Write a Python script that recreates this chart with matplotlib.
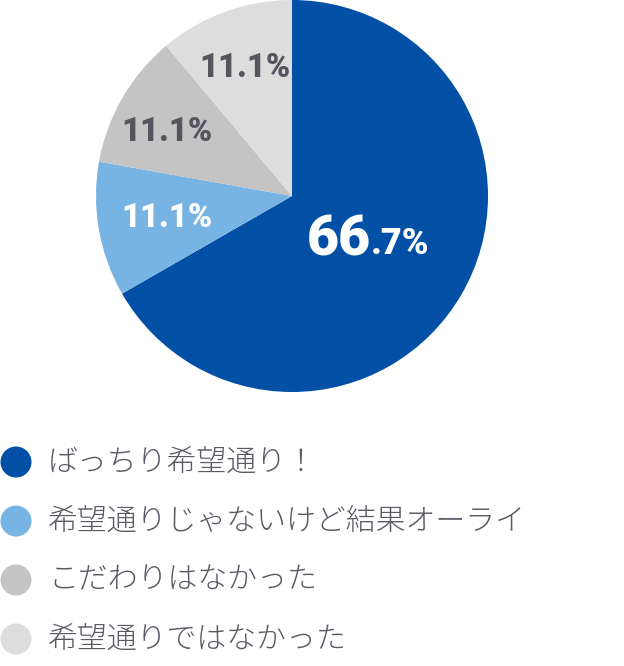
import matplotlib.pyplot as plt
from matplotlib.patches import Circle

plt.rcParams['font.family'] = ['Noto Sans CJK JP', 'DejaVu Sans']

# data
categories = ["ばっちり希望通り！", "希望通りじゃないけど結果オーライ", "こだわりはなかった", "希望通りではなかった"]
values = [66.7, 11.1, 11.1, 11.1]
colors = ["#024FA6", "#77B4E4", "#C4C4C4", "#DDDDDD"]
label_colors = ["white", "white", "#55555F", "#55555F"]

W, H = 624, 666
fig = plt.figure(figsize=(W / 100, H / 100), dpi=100)

# pie area in pixel box (96..488, 0..392)
ax = fig.add_axes([96 / W, (H - 392) / H, 392 / W, 392 / H])
wedges, _ = ax.pie(values, colors=colors, startangle=90, counterclock=False,
                   radius=1, wedgeprops=dict(linewidth=0))
ax.set_xlim(-1, 1)
ax.set_ylim(-1, 1)
ax.set_aspect("equal")
ax.axis("off")

# slice labels (pixel positions of label centres)
def px(x, y):
    return (x - 292) / 196, (196 - y) / 196

big, small = f"{values[0]:.1f}".split(".")
x0, y0 = px(307, 240)
t = ax.text(x0, y0, big, color="white", fontsize=40, fontweight="black",
            family="Roboto", ha="left", va="center")
fig.canvas.draw()
bb = t.get_window_extent()
inv = ax.transData.inverted()
x1 = inv.transform((bb.x1, bb.y0))[0]
ax.text(x1, y0 - 0.07, "." + small + "%", color="white", fontsize=26, fontweight="black",
        family="Roboto", ha="left", va="baseline")

label_pos = [None, (167, 218), (167, 132), (245, 68)]
for v, pos, c in zip(values[1:], label_pos[1:], label_colors[1:]):
    x, y = px(*pos)
    ax.text(x, y, f"{v:.1f}%", color=c, fontsize=23.5, fontweight="black",
            family="Roboto", ha="center", va="center")

# legend
lax = fig.add_axes([0, 0, 1, 1])
lax.set_xlim(0, W)
lax.set_ylim(H, 0)
lax.axis("off")
for i, (name, c) in enumerate(zip(categories, colors)):
    yc = 462 + i * 59
    lax.add_patch(Circle((16, yc), 15.5, color=c, lw=0))
    lax.text(48, yc, name, fontsize=21.5, color="#5A5A64", fontweight="light",
             ha="left", va="center")

fig.savefig("out.png", dpi=100)
